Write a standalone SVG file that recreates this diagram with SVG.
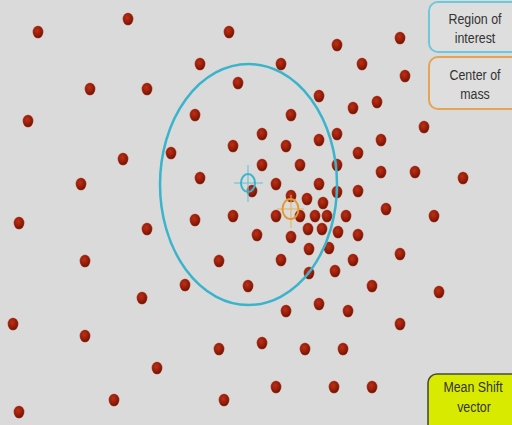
<svg xmlns="http://www.w3.org/2000/svg" width="512" height="425" viewBox="0 0 512 425">
<defs>
<radialGradient id="dotg" cx="0.42" cy="0.38" r="0.65">
<stop offset="0" stop-color="#bb3018"/>
<stop offset="0.6" stop-color="#951c08"/>
<stop offset="1" stop-color="#641002"/>
</radialGradient>
<style>
.dot{fill:url(#dotg);stroke:#e8a890;stroke-width:0.6;stroke-opacity:0.5}
.lbl{font-family:"Liberation Sans",Arial,sans-serif;font-size:15.5px;fill:#333;text-anchor:middle}
.box{stroke-width:2}
</style>
</defs>
<rect x="0" y="0" width="512" height="425" fill="#dadada"/>
<g id="points">
<ellipse class="dot" cx="38" cy="32" rx="5.3" ry="6.3"/>
<ellipse class="dot" cx="128" cy="19" rx="5.3" ry="6.3"/>
<ellipse class="dot" cx="229" cy="32" rx="5.3" ry="6.3"/>
<ellipse class="dot" cx="200" cy="64" rx="5.3" ry="6.3"/>
<ellipse class="dot" cx="90" cy="89" rx="5.3" ry="6.3"/>
<ellipse class="dot" cx="147" cy="89" rx="5.3" ry="6.3"/>
<ellipse class="dot" cx="238" cy="83" rx="5.3" ry="6.3"/>
<ellipse class="dot" cx="28" cy="121" rx="5.3" ry="6.3"/>
<ellipse class="dot" cx="123" cy="159" rx="5.3" ry="6.3"/>
<ellipse class="dot" cx="81" cy="184" rx="5.3" ry="6.3"/>
<ellipse class="dot" cx="337" cy="45" rx="5.3" ry="6.3"/>
<ellipse class="dot" cx="400" cy="38" rx="5.3" ry="6.3"/>
<ellipse class="dot" cx="281" cy="64" rx="5.3" ry="6.3"/>
<ellipse class="dot" cx="362" cy="64" rx="5.3" ry="6.3"/>
<ellipse class="dot" cx="405" cy="76" rx="5.3" ry="6.3"/>
<ellipse class="dot" cx="319" cy="96" rx="5.3" ry="6.3"/>
<ellipse class="dot" cx="353" cy="108" rx="5.3" ry="6.3"/>
<ellipse class="dot" cx="377" cy="102" rx="5.3" ry="6.3"/>
<ellipse class="dot" cx="291" cy="115" rx="5.3" ry="6.3"/>
<ellipse class="dot" cx="424" cy="127" rx="5.3" ry="6.3"/>
<ellipse class="dot" cx="381" cy="140" rx="5.3" ry="6.3"/>
<ellipse class="dot" cx="415" cy="172" rx="5.3" ry="6.3"/>
<ellipse class="dot" cx="463" cy="178" rx="5.3" ry="6.3"/>
<ellipse class="dot" cx="195" cy="115" rx="5.3" ry="6.3"/>
<ellipse class="dot" cx="171" cy="153" rx="5.3" ry="6.3"/>
<ellipse class="dot" cx="233" cy="146" rx="5.3" ry="6.3"/>
<ellipse class="dot" cx="262" cy="134" rx="5.3" ry="6.3"/>
<ellipse class="dot" cx="286" cy="146" rx="5.3" ry="6.3"/>
<ellipse class="dot" cx="319" cy="140" rx="5.3" ry="6.3"/>
<ellipse class="dot" cx="337" cy="134" rx="5.3" ry="6.3"/>
<ellipse class="dot" cx="358" cy="153" rx="5.3" ry="6.3"/>
<ellipse class="dot" cx="262" cy="165" rx="5.3" ry="6.3"/>
<ellipse class="dot" cx="300" cy="165" rx="5.3" ry="6.3"/>
<ellipse class="dot" cx="337" cy="165" rx="5.3" ry="6.3"/>
<ellipse class="dot" cx="381" cy="172" rx="5.3" ry="6.3"/>
<ellipse class="dot" cx="200" cy="178" rx="5.3" ry="6.3"/>
<ellipse class="dot" cx="276" cy="184" rx="5.3" ry="6.3"/>
<ellipse class="dot" cx="319" cy="184" rx="5.3" ry="6.3"/>
<ellipse class="dot" cx="337" cy="192" rx="5.3" ry="6.3"/>
<ellipse class="dot" cx="358" cy="191" rx="5.3" ry="6.3"/>
<ellipse class="dot" cx="252" cy="191" rx="5.3" ry="6.3"/>
<ellipse class="dot" cx="291" cy="196" rx="5.3" ry="6.3"/>
<ellipse class="dot" cx="307" cy="199" rx="5.3" ry="6.3"/>
<ellipse class="dot" cx="323" cy="203" rx="5.3" ry="6.3"/>
<ellipse class="dot" cx="386" cy="209" rx="5.3" ry="6.3"/>
<ellipse class="dot" cx="434" cy="216" rx="5.3" ry="6.3"/>
<ellipse class="dot" cx="19" cy="223" rx="5.3" ry="6.3"/>
<ellipse class="dot" cx="147" cy="229" rx="5.3" ry="6.3"/>
<ellipse class="dot" cx="195" cy="220" rx="5.3" ry="6.3"/>
<ellipse class="dot" cx="233" cy="216" rx="5.3" ry="6.3"/>
<ellipse class="dot" cx="276" cy="216" rx="5.3" ry="6.3"/>
<ellipse class="dot" cx="300" cy="216" rx="5.3" ry="6.3"/>
<ellipse class="dot" cx="315" cy="216" rx="5.3" ry="6.3"/>
<ellipse class="dot" cx="327" cy="216" rx="5.3" ry="6.3"/>
<ellipse class="dot" cx="346" cy="216" rx="5.3" ry="6.3"/>
<ellipse class="dot" cx="308" cy="229" rx="5.3" ry="6.3"/>
<ellipse class="dot" cx="322" cy="229" rx="5.3" ry="6.3"/>
<ellipse class="dot" cx="338" cy="232" rx="5.3" ry="6.3"/>
<ellipse class="dot" cx="257" cy="235" rx="5.3" ry="6.3"/>
<ellipse class="dot" cx="291" cy="237" rx="5.3" ry="6.3"/>
<ellipse class="dot" cx="358" cy="235" rx="5.3" ry="6.3"/>
<ellipse class="dot" cx="309" cy="249" rx="5.3" ry="6.3"/>
<ellipse class="dot" cx="329" cy="248" rx="5.3" ry="6.3"/>
<ellipse class="dot" cx="219" cy="261" rx="5.3" ry="6.3"/>
<ellipse class="dot" cx="281" cy="260" rx="5.3" ry="6.3"/>
<ellipse class="dot" cx="353" cy="260" rx="5.3" ry="6.3"/>
<ellipse class="dot" cx="400" cy="254" rx="5.3" ry="6.3"/>
<ellipse class="dot" cx="85" cy="261" rx="5.3" ry="6.3"/>
<ellipse class="dot" cx="185" cy="285" rx="5.3" ry="6.3"/>
<ellipse class="dot" cx="248" cy="286" rx="5.3" ry="6.3"/>
<ellipse class="dot" cx="309" cy="273" rx="5.3" ry="6.3"/>
<ellipse class="dot" cx="335" cy="271" rx="5.3" ry="6.3"/>
<ellipse class="dot" cx="372" cy="286" rx="5.3" ry="6.3"/>
<ellipse class="dot" cx="439" cy="292" rx="5.3" ry="6.3"/>
<ellipse class="dot" cx="142" cy="298" rx="5.3" ry="6.3"/>
<ellipse class="dot" cx="13" cy="324" rx="5.3" ry="6.3"/>
<ellipse class="dot" cx="85" cy="336" rx="5.3" ry="6.3"/>
<ellipse class="dot" cx="286" cy="311" rx="5.3" ry="6.3"/>
<ellipse class="dot" cx="319" cy="304" rx="5.3" ry="6.3"/>
<ellipse class="dot" cx="348" cy="311" rx="5.3" ry="6.3"/>
<ellipse class="dot" cx="400" cy="324" rx="5.3" ry="6.3"/>
<ellipse class="dot" cx="262" cy="343" rx="5.3" ry="6.3"/>
<ellipse class="dot" cx="219" cy="349" rx="5.3" ry="6.3"/>
<ellipse class="dot" cx="305" cy="349" rx="5.3" ry="6.3"/>
<ellipse class="dot" cx="343" cy="349" rx="5.3" ry="6.3"/>
<ellipse class="dot" cx="157" cy="368" rx="5.3" ry="6.3"/>
<ellipse class="dot" cx="114" cy="400" rx="5.3" ry="6.3"/>
<ellipse class="dot" cx="224" cy="400" rx="5.3" ry="6.3"/>
<ellipse class="dot" cx="276" cy="387" rx="5.3" ry="6.3"/>
<ellipse class="dot" cx="334" cy="387" rx="5.3" ry="6.3"/>
<ellipse class="dot" cx="372" cy="387" rx="5.3" ry="6.3"/>
<ellipse class="dot" cx="19" cy="412" rx="5.3" ry="6.3"/>
</g>
<g id="region">
<ellipse cx="248.5" cy="184.5" rx="88.5" ry="120.5" fill="none" stroke="#3ab4cc" stroke-width="2.5"/>
</g>
<g id="region-center">
<line x1="234" y1="183" x2="263" y2="183" stroke="#6cc6d8" stroke-width="1.2"/>
<line x1="248" y1="165" x2="248" y2="202" stroke="#6cc6d8" stroke-width="1.2"/>
<ellipse cx="248" cy="183" rx="7" ry="9" fill="none" stroke="#3ab4cc" stroke-width="2"/>
</g>
<g id="center-of-mass">
<line x1="277" y1="209" x2="304" y2="209" stroke="#e6b060" stroke-width="1.2" stroke-opacity="0.85"/>
<line x1="291" y1="195" x2="291" y2="228" stroke="#e6b060" stroke-width="1.2" stroke-opacity="0.85"/>
<ellipse cx="290.5" cy="209" rx="8" ry="10" fill="none" stroke="#e09a3a" stroke-width="2"/>
</g>
<g id="legend-region">
<path class="box" d="M513 2 H438 A9 9 0 0 0 429 11 V43 A9 9 0 0 0 438 52 H513" fill="#dedede" stroke="#6ec8dc"/>
<text class="lbl" transform="translate(475,24) scale(0.8,1)">Region of</text>
<text class="lbl" transform="translate(475,43) scale(0.8,1)">interest</text>
</g>
<g id="legend-center">
<path class="box" d="M513 57 H438 A9 9 0 0 0 429 66 V100 A9 9 0 0 0 438 109 H513" fill="#dedede" stroke="#e3a456"/>
<text class="lbl" transform="translate(475,80) scale(0.8,1)">Center of</text>
<text class="lbl" transform="translate(475,99) scale(0.8,1)">mass</text>
</g>
<g id="legend-vector">
<path d="M513 374 H437 A9 9 0 0 0 428 383 V426 H513 Z" fill="#d8ea00" stroke="#4a4a3a" stroke-width="1.6"/>
<text class="lbl" transform="translate(473,392) scale(0.8,1)">Mean Shift</text>
<text class="lbl" transform="translate(474,412) scale(0.8,1)">vector</text>
</g>
</svg>
